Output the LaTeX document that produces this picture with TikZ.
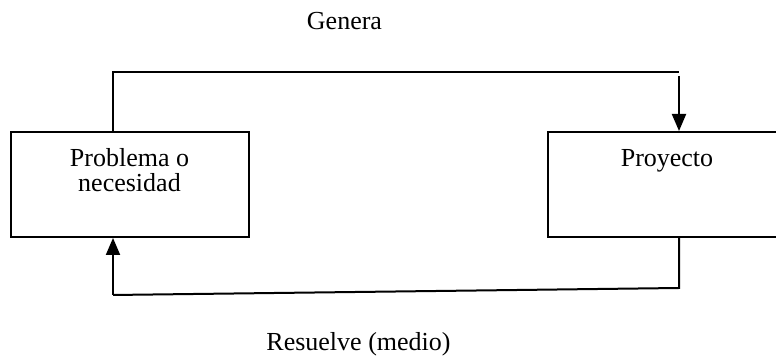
\documentclass[tikz,border=0pt]{standalone}
\usepackage{fontspec}
\setmainfont{Liberation Serif}
\usetikzlibrary{arrows.meta}
\begin{document}
\begin{tikzpicture}[x=0.5pt,y=-0.5pt,
  box/.style={draw,line width=1pt,minimum width=119pt,minimum height=52.5pt,inner sep=0pt},
  lbl/.style={font=\fontsize{13}{12.5}\selectfont,inner sep=0pt,anchor=base,align=center},
  conn/.style={line width=1pt},
  arr/.style={line width=1pt,-{Triangle[width=7pt,length=8.5pt]}}]
\useasboundingbox (0,0) rectangle (776,356);
\node[box] (pb) at (129.5,184.5) {};
\node[box] (py) at (667,184.5) {};
\node[lbl] (tpb) at (129.5,192) {Problema o\\necesidad};
\node[lbl] (tpy) at (667,167) {Proyecto};
\node[lbl] (gen) at (344.5,30) {Genera};
\node[lbl] (res) at (358.5,351) {Resuelve (medio)};
\coordinate (a1) at (113,72);
\coordinate (a2) at (679,72);
\coordinate (a3) at (679,76);
\coordinate (b1) at (679,288);
\coordinate (b2) at (113,295);
\draw[conn] (pb.north -| a1) -- (a1) -- (a2);
\draw[arr] (a3) -- (py.north -| a3);
\draw[conn] (py.south -| b1) -- (b1) -- (b2);
\draw[arr] (b2) -- (pb.south -| b2);
\end{tikzpicture}
\end{document}
